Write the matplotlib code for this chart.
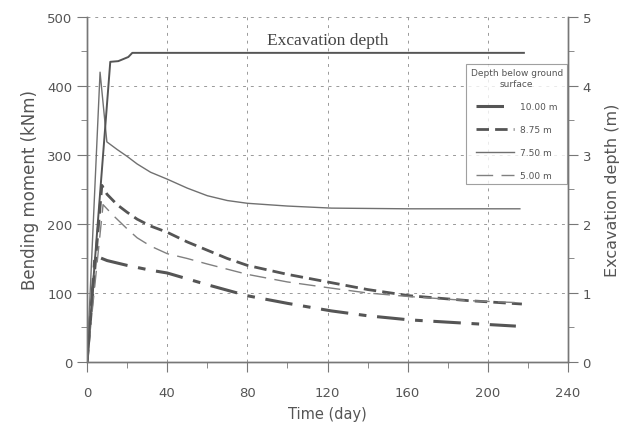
import matplotlib
matplotlib.use("Agg")
import matplotlib.pyplot as plt
from matplotlib.ticker import MultipleLocator

# ---- data ----
t_exc = [0, 11.6, 15.6, 20.6, 22.6, 218]
d_exc = [0, 4.35, 4.36, 4.42, 4.48, 4.48]

t_10 = [0, 4, 10, 20, 31.7, 40, 60, 80, 100, 122, 140, 161, 190, 214]
m_10 = [0, 154, 147, 140, 133, 129, 112, 96, 85, 74, 67, 61, 56, 52]

t_875 = [0, 7.4, 10, 15, 20, 25, 31.7, 40, 50, 60, 70, 80, 100, 120, 140, 161, 190, 217]
m_875 = [0, 256, 243, 228, 217, 207, 197, 188, 174, 162, 150, 140, 127, 116, 105, 96, 89, 84]

t_750 = [0, 6.5, 9.9, 15, 20, 25, 31.7, 40, 50, 60, 70, 80, 100, 122, 160, 216]
m_750 = [0, 420, 319, 308, 298, 287, 275, 265, 252, 241, 234, 230, 226, 223, 222, 222]

t_500 = [0, 8, 13.2, 20, 25, 31.7, 40, 50, 60, 80, 100, 122, 140, 160, 190, 215]
m_500 = [0, 228, 212, 193, 180, 168, 157, 150, 142, 127, 116, 107, 100, 95, 89, 86]

labels = ["10.00 m", "8.75 m", "7.50 m", "5.00 m"]

TXT = "#555555"

fig = plt.figure(figsize=(6.32, 4.27), dpi=100)
ax = fig.add_axes([0.1377, 0.1499, 0.761, 0.808])
ax2 = ax.twinx()

l1, = ax.plot(t_10, m_10, color="#555555", lw=2.2, dashes=(9, 3.5, 2.5, 3.5))
l2, = ax.plot(t_875, m_875, color="#555555", lw=2.0, dashes=(4.5, 2.2))
l3, = ax.plot(t_750, m_750, color="#707070", lw=1.0)
l4, = ax.plot(t_500, m_500, color="#808080", lw=1.0, dashes=(12, 6))
ax2.plot(t_exc, d_exc, color="#555555", lw=1.4)

ax.set_xlim(0, 240)
ax.set_ylim(0, 500)
ax2.set_ylim(0, 5)
ax.xaxis.set_major_locator(MultipleLocator(40))
ax.xaxis.set_minor_locator(MultipleLocator(20))
ax.yaxis.set_major_locator(MultipleLocator(100))
ax.yaxis.set_minor_locator(MultipleLocator(50))
ax2.yaxis.set_major_locator(MultipleLocator(1))
ax2.yaxis.set_minor_locator(MultipleLocator(0.5))

ax.grid(True, which="major", color="#999999", lw=0.7, dashes=(3, 5))
ax.set_axisbelow(True)

for a in (ax, ax2):
    a.spines["top"].set_visible(False)
    for s in ("left", "right", "bottom"):
        a.spines[s].set_color("#777777")
        a.spines[s].set_linewidth(1.0)
    a.tick_params(which="both", direction="out", colors="#777777", labelcolor=TXT, labelsize=9.5)
    a.tick_params(which="major", length=7)
    a.tick_params(which="minor", length=4)

ax.tick_params(axis="x", pad=10)
ax.set_xlabel("Time (day)", fontsize=10.5, color=TXT, labelpad=5)
ax.set_ylabel("Bending moment (kNm)", fontsize=12, color=TXT, labelpad=6)
ax2.set_ylabel("Excavation depth (m)", fontsize=11.5, color=TXT, labelpad=10)

ax.text(120, 455, "Excavation depth", family="Liberation Serif", fontsize=12.5,
        color="#444444", ha="center", va="bottom")

leg = ax.legend([l1, l2, l3, l4], labels, title="Depth below ground\nsurface",
                loc="upper left", bbox_to_anchor=(0.788, 0.864), fontsize=6.5,
                title_fontsize=6.5, handlelength=4.2, frameon=True, fancybox=False,
                edgecolor="#888888", borderpad=0.5, labelspacing=1.55,
                handletextpad=0.6, borderaxespad=0.0)
leg.get_frame().set_linewidth(0.8)
for tx in leg.get_texts():
    tx.set_color(TXT)
leg.get_title().set_color(TXT)
leg.get_title().set_multialignment("center")

fig.savefig("out.png", dpi=100)
